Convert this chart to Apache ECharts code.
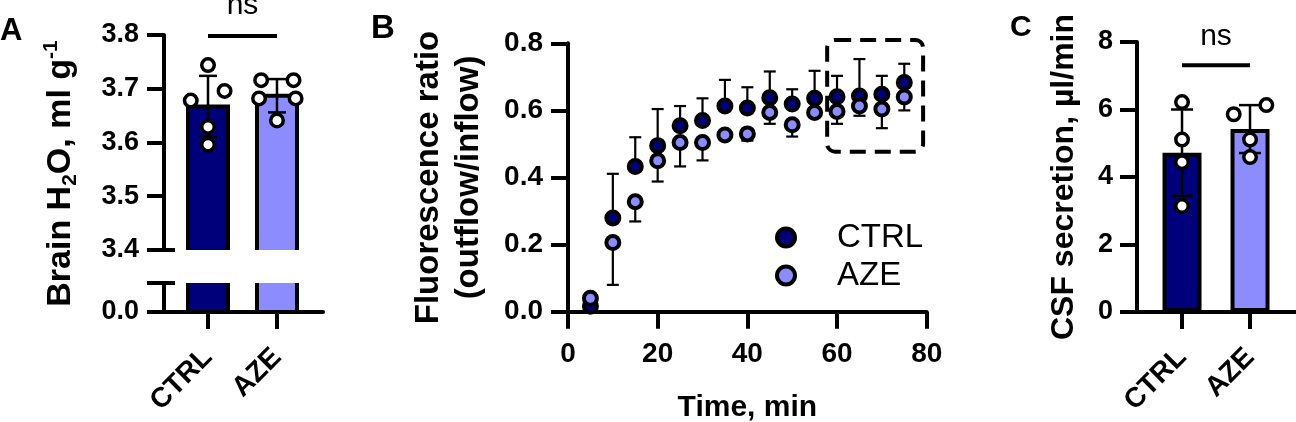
<!DOCTYPE html>
<html><head><meta charset="utf-8">
<script src="https://cdn.jsdelivr.net/npm/echarts@6/dist/echarts.min.js"></script>
<style>html,body{margin:0;padding:0;background:#fff}#c{width:1296px;height:422px}</style>
</head><body><div id="c"></div>
<script>
// ---------- data ----------
const groups = ['CTRL', 'AZE'];

// Panel A: brain water content
const meanA = [3.667, 3.687];
const sdA = [0.057, 0.031];
const ptsA_CTRL = [3.744, 3.678, 3.696, 3.629, 3.596];
const jitA_CTRL = [0, -0.25, 0.24, 0, 0];
const ptsA_AZE = [3.716, 3.716, 3.682, 3.682, 3.641];
const jitA_AZE = [-0.23, 0.24, -0.26, 0.27, 0];
const yTicksA = [3.4, 3.8, 0.1];      // min, max, step of upper segment
const yLowA = [0, 1];                 // lower segment (only 0.0 labelled)

// Panel B: fluorescence ratio over time
const timeB = [5, 10, 15, 20, 25, 30, 35, 40, 45, 50, 55, 60, 65, 70, 75];
const ctrlB = [0.016, 0.279, 0.433, 0.495, 0.554, 0.570, 0.613, 0.607, 0.638, 0.619, 0.636, 0.641, 0.643, 0.648, 0.683];
const ctrlSdB = [0.005, 0.132, 0.087, 0.109, 0.059, 0.066, 0.078, 0.062, 0.078, 0.044, 0.082, 0.062, 0.110, 0.055, 0.056];
const azeB = [0.040, 0.206, 0.328, 0.450, 0.504, 0.504, 0.527, 0.530, 0.594, 0.557, 0.594, 0.597, 0.613, 0.604, 0.640];
const azeSdB = [0.005, 0.126, 0.059, 0.062, 0.071, 0.053, 0.012, 0.020, 0.034, 0.035, 0.012, 0.037, 0.029, 0.057, 0.040];
const boxB = [57.8, 79.2, 0.477, 0.81]; // dashed highlight box (x0,x1,y0,y1)

// Panel C: CSF secretion
const meanC = [4.72, 5.42];
const sdC = [1.28, 0.71];
const ptsC_CTRL = [6.22, 5.11, 4.44, 3.14];
const jitC_CTRL = [0, 0, 0, 0];
const ptsC_AZE = [5.86, 6.13, 5.11, 4.59];
const jitC_AZE = [-0.24, 0.24, 0, 0];

// significance annotations
const nsA = {line: 3.798, text: 3.854};
const nsC = {line: 7.31, text: 8.17};

// ---------- style ----------
const FONT = 'Arial, "Liberation Sans", Helvetica, sans-serif';
const DARK = '#00007a';
const LIGHT = '#8c8cff';
const AXW = 4;

const chart = echarts.init(document.getElementById('c'), null, {renderer: 'canvas'});

function axisStyle(extra) {
  return Object.assign({
    axisLine: {show: true, lineStyle: {color: '#000', width: AXW}},
    axisTick: {show: true, length: 17, lineStyle: {color: '#000', width: AXW}},
    splitLine: {show: false},
  }, extra);
}
function labelStyle(size, margin, extra) {
  return Object.assign({color: '#000', fontSize: size, fontWeight: 'bold', fontFamily: FONT, margin: margin}, extra);
}

function brokenBar(base, top) {
  return function (params, api) {
    const x = api.value(0), v = api.value(1);
    const lo = base, hi = top === null ? v : top;
    const pT = api.coord([x, hi]), pB = api.coord([x, lo]);
    const hw = 20;
    const l = pT[0] - hw, r = pT[0] + hw;
    const pts = top === null
      ? [[l, pB[1]], [l, pT[1]], [r, pT[1]], [r, pB[1]]]
      : [[l, pT[1]], [l, pB[1]], [r, pB[1]], [r, pT[1]]];
    return {type: 'group', children: [
      {type: 'rect', shape: {x: l, y: pT[1], width: 2 * hw, height: pB[1] - pT[1]}, style: {fill: api.visual('color')}},
      {type: 'polyline', shape: {points: pts}, style: {stroke: '#000', lineWidth: 4, fill: null}}
    ]};
  };
}

function errRender(mode, capHalf, lw) {
  return function (params, api) {
    const x = api.value(0);
    const pL = api.coord([x, api.value(1)]), pH = api.coord([x, api.value(2)]);
    const st = {stroke: '#000', lineWidth: lw};
    const ch = [{type: 'line', shape: {x1: pL[0], y1: pL[1], x2: pH[0], y2: pH[1]}, style: st}];
    if (mode !== 'down') ch.push({type: 'line', shape: {x1: pH[0] - capHalf, y1: pH[1], x2: pH[0] + capHalf, y2: pH[1]}, style: st});
    if (mode !== 'up') ch.push({type: 'line', shape: {x1: pL[0] - capHalf, y1: pL[1], x2: pL[0] + capHalf, y2: pL[1]}, style: st});
    return {type: 'group', children: ch};
  };
}

const openPt = {color: '#fff', borderColor: '#000', borderWidth: 3.5, opacity: 1};
const colorsGrp = [DARK, LIGHT];
const titleTS = s => ({fontSize: s, fontWeight: 'bold', color: '#000', fontFamily: FONT});
const gridBase = {outerBoundsMode: 'none', containLabel: false};

const option = {
  animation: false,
  backgroundColor: '#fff',
  textStyle: {fontFamily: FONT, color: '#000'},
  title: [
    {text: 'A', left: 0, top: 16, padding: 0, textStyle: titleTS(31)},
    {text: 'B', left: 371, top: 12, padding: 0, textStyle: titleTS(33)},
    {text: 'C', left: 1010, top: 13, padding: 0, textStyle: titleTS(30)}
  ],
  legend: {
    data: ['CTRL', 'AZE'], orient: 'vertical', left: 775, top: 221, padding: 0,
    itemWidth: 18, itemHeight: 18, itemGap: 5,
    itemStyle: {borderWidth: 4, borderColor: '#000', opacity: 1},
    textStyle: {fontSize: 33, fontFamily: FONT, color: '#000', padding: [0, 0, 0, 37]}
  },
  grid: [
    Object.assign({left: 164, top: 35, width: 159, height: 215}, gridBase),   // A upper
    Object.assign({left: 164, top: 283, width: 159, height: 29}, gridBase),   // A lower
    Object.assign({left: 164, top: 35, width: 159, height: 277}, gridBase),   // A title holder
    Object.assign({left: 568, top: 43.3, width: 358.7, height: 268.4}, gridBase), // B
    Object.assign({left: 1137, top: 42, width: 159, height: 270}, gridBase)   // C
  ],
  xAxis: [
    {gridIndex: 0, type: 'value', min: 0.362, max: 2.667, show: false},
    axisStyle({gridIndex: 1, type: 'value', min: 0.362, max: 2.667,
      axisTick: {show: true, length: 17, customValues: [1, 2], lineStyle: {color: '#000', width: AXW}},
      axisLabel: labelStyle(28, 41, {customValues: [1, 2], rotate: 45, formatter: v => groups[Math.round(v) - 1]})}),
    {gridIndex: 2, type: 'value', min: 0, max: 1, show: false},
    axisStyle({gridIndex: 3, type: 'value', min: 0, max: 80, interval: 20,
      axisLabel: labelStyle(28, 29),
      name: 'Time, min', nameLocation: 'middle', nameGap: 81,
      nameTextStyle: {fontSize: 30, fontWeight: 'bold', fontFamily: FONT, color: '#000'}}),
    axisStyle({gridIndex: 4, type: 'value', min: 0.338, max: 2.676,
      axisTick: {show: true, length: 17, customValues: [1, 2], lineStyle: {color: '#000', width: AXW}},
      axisLabel: labelStyle(28, 41, {customValues: [1, 2], rotate: 45, formatter: v => groups[Math.round(v) - 1]})})
  ],
  yAxis: [
    axisStyle({gridIndex: 0, type: 'value', min: yTicksA[0], max: yTicksA[1], interval: yTicksA[2],
      axisLabel: labelStyle(27, 25, {formatter: v => v.toFixed(1)})}),
    axisStyle({gridIndex: 1, type: 'value', min: yLowA[0], max: yLowA[1], interval: 1,
      axisLabel: labelStyle(27, 25, {formatter: v => (v === 0 ? '0.0' : '')})}),
    {gridIndex: 2, type: 'value', min: 0, max: 1, show: true,
      axisLine: {show: false}, axisTick: {show: false}, axisLabel: {show: false}, splitLine: {show: false},
      name: '{a|Brain H}{s|2}{a|O, ml g}{p|-1}', nameLocation: 'middle', nameRotate: 90, nameGap: 83,
      nameTextStyle: {rich: {
        a: {fontSize: 34, fontWeight: 'bold', fontFamily: FONT, color: '#000', lineHeight: 40, verticalAlign: 'middle'},
        s: {fontSize: 21, fontWeight: 'bold', fontFamily: FONT, color: '#000', lineHeight: 16, verticalAlign: 'bottom'},
        p: {fontSize: 21, fontWeight: 'bold', fontFamily: FONT, color: '#000', lineHeight: 16, verticalAlign: 'top'}
      }}},
    axisStyle({gridIndex: 3, type: 'value', min: 0, max: 0.8, interval: 0.2,
      axisLabel: labelStyle(28, 25, {formatter: v => v.toFixed(1)}),
      name: 'Fluorescence ratio\n(outflow/inflow)', nameLocation: 'middle', nameRotate: 90, nameGap: 79,
      nameTextStyle: {fontSize: 33, lineHeight: 40, fontWeight: 'bold', fontFamily: FONT, color: '#000'}}),
    axisStyle({gridIndex: 4, type: 'value', min: 0, max: 8, interval: 2,
      axisLabel: labelStyle(27, 24),
      name: 'CSF secretion, µl/min', nameLocation: 'middle', nameRotate: 90, nameGap: 57,
      nameTextStyle: {fontSize: 32, fontWeight: 'bold', fontFamily: FONT, color: '#000'}})
  ],
  series: [
    // Panel A bars (broken axis)
    {type: 'custom', name: 'A bars upper', xAxisIndex: 0, yAxisIndex: 0, z: 1,
      renderItem: brokenBar(yTicksA[0], null),
      data: meanA.map((v, i) => ({value: [i + 1, v], itemStyle: {color: colorsGrp[i]}}))},
    {type: 'custom', name: 'A bars lower', xAxisIndex: 1, yAxisIndex: 1, z: 1,
      renderItem: brokenBar(yLowA[0], yLowA[1]),
      data: meanA.map((v, i) => ({value: [i + 1, v], itemStyle: {color: colorsGrp[i]}}))},
    {type: 'custom', name: 'A err', xAxisIndex: 0, yAxisIndex: 0, z: 2,
      renderItem: errRender('both', 9, 2.5),
      data: meanA.map((m, i) => [i + 1, m - sdA[i], m + sdA[i]])},
    {type: 'scatter', name: 'A-CTRL', xAxisIndex: 0, yAxisIndex: 0, z: 3, symbolSize: 12.5, itemStyle: openPt,
      data: ptsA_CTRL.map((v, i) => [1 + jitA_CTRL[i], v])},
    {type: 'scatter', name: 'A-AZE', xAxisIndex: 0, yAxisIndex: 0, z: 3, symbolSize: 12.5, itemStyle: openPt,
      data: ptsA_AZE.map((v, i) => [2 + jitA_AZE[i], v])},

    // Panel B
    {type: 'custom', name: 'B err CTRL', xAxisIndex: 3, yAxisIndex: 3, z: 2,
      renderItem: errRender('up', 6, 2.2),
      data: timeB.map((t, i) => [t, ctrlB[i], ctrlB[i] + ctrlSdB[i]])},
    {type: 'custom', name: 'B err AZE', xAxisIndex: 3, yAxisIndex: 3, z: 2,
      renderItem: errRender('down', 6, 2.2),
      data: timeB.map((t, i) => [t, azeB[i] - azeSdB[i], azeB[i]])},
    {type: 'scatter', name: 'CTRL', xAxisIndex: 3, yAxisIndex: 3, z: 3, symbolSize: 13,
      itemStyle: {color: DARK, borderColor: '#000', borderWidth: 4, opacity: 1},
      data: timeB.map((t, i) => [t, ctrlB[i]])},
    {type: 'scatter', name: 'AZE', xAxisIndex: 3, yAxisIndex: 3, z: 4, symbolSize: 13,
      itemStyle: {color: LIGHT, borderColor: '#000', borderWidth: 4, opacity: 1},
      data: timeB.map((t, i) => [t, azeB[i]])},

    // Panel C
    {type: 'bar', name: 'C bars', xAxisIndex: 4, yAxisIndex: 4, z: 1, barWidth: 39,
      itemStyle: {borderColor: '#000', borderWidth: 4},
      data: meanC.map((v, i) => ({value: [i + 1, v], itemStyle: {color: colorsGrp[i], borderColor: '#000', borderWidth: 4}}))},
    {type: 'custom', name: 'C err', xAxisIndex: 4, yAxisIndex: 4, z: 2,
      renderItem: errRender('both', 11, 2.5),
      data: meanC.map((m, i) => [i + 1, m - sdC[i], m + sdC[i]])},
    {type: 'scatter', name: 'C-CTRL', xAxisIndex: 4, yAxisIndex: 4, z: 3, symbolSize: 12.5, itemStyle: openPt,
      data: ptsC_CTRL.map((v, i) => [1 + jitC_CTRL[i], v])},
    {type: 'scatter', name: 'C-AZE', xAxisIndex: 4, yAxisIndex: 4, z: 3, symbolSize: 12.5, itemStyle: openPt,
      data: ptsC_AZE.map((v, i) => [2 + jitC_AZE[i], v])}
  ]
};
chart.setOption(option);

// ---------- annotations placed through the chart's own coordinate system ----------
const P = (g, pt) => chart.convertToPixel({gridIndex: g}, pt);
const g = [];
function nsMark(grid, ann) {
  const a = P(grid, [1, ann.line]), b = P(grid, [2, ann.line]), t = P(grid, [1.5, ann.text]);
  g.push({type: 'line', shape: {x1: a[0], y1: a[1], x2: b[0], y2: b[1]}, style: {stroke: '#000', lineWidth: 4}, z: 10});
  g.push({type: 'text', x: t[0], y: t[1], style: {text: 'ns', fontSize: 30, fontFamily: FONT, fill: '#000', align: 'center', verticalAlign: 'middle'}, z: 10});
}
nsMark(0, nsA);
nsMark(4, nsC);
// dashed box in B
const b0 = P(3, [boxB[0], boxB[3]]), b1 = P(3, [boxB[1], boxB[2]]);
g.push({type: 'rect', shape: {x: b0[0], y: b0[1], width: b1[0] - b0[0], height: b1[1] - b0[1], r: 8},
  style: {fill: null, stroke: '#000', lineWidth: 4, lineDash: [16, 9]}, z: 10});
// axis-break caps on A
const u = P(0, [0.362, yTicksA[0]]), lw = P(1, [0.362, yLowA[1]]);
g.push({type: 'line', shape: {x1: u[0], y1: u[1], x2: u[0] + 11, y2: u[1]}, style: {stroke: '#000', lineWidth: AXW}, z: 10});
g.push({type: 'line', shape: {x1: lw[0], y1: lw[1], x2: lw[0] + 11, y2: lw[1]}, style: {stroke: '#000', lineWidth: AXW}, z: 10});
chart.setOption({graphic: g});
</script>
</body></html>
